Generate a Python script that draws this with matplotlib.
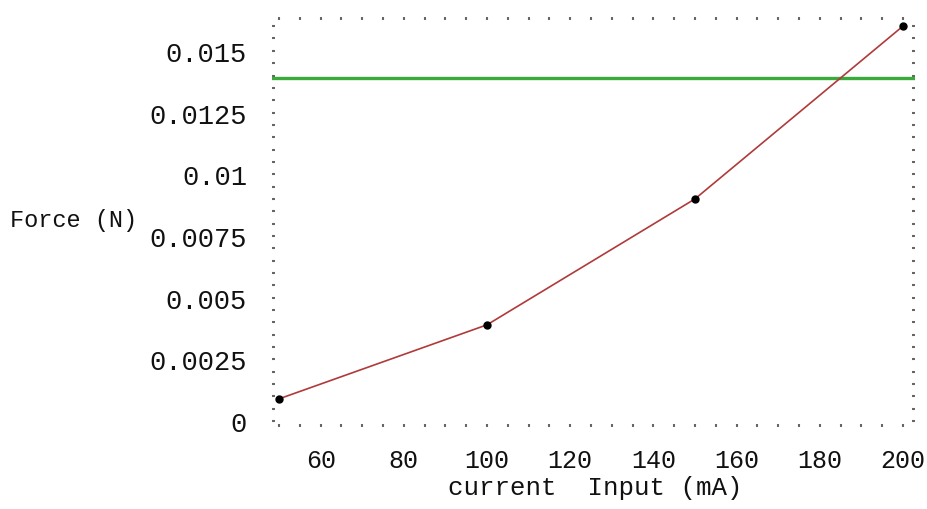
import numpy as np
import matplotlib
matplotlib.use('Agg')
from matplotlib import pyplot as plt
from matplotlib.ticker import MultipleLocator, FixedLocator

current = [50, 100, 150, 200]
force = [0.0009, 0.0039, 0.0090, 0.0160]
limit_force = 0.0139

x_ticks = [60, 80, 100, 120, 140, 160, 180, 200]
y_ticks = [0, 0.0025, 0.005, 0.0075, 0.01, 0.0125, 0.015]
y_tick_labels = ['0', '0.0025', '0.005', '0.0075', '0.01', '0.0125', '0.015']

plt.rcParams['font.family'] = ['Liberation Mono', 'DejaVu Sans']

fig = plt.figure(figsize=(9.28, 5.10), dpi=100)
ax = fig.add_axes([0.2931, 0.1608, 0.986 - 0.2931, 0.9647 - 0.1608])

ax.axhline(limit_force, color='#3aaa3a', lw=2.4, zorder=2)
ax.plot(current, force, color='#b03a3a', lw=1.2, zorder=3)
ax.plot(current, force, 'o', color='black', ms=5, zorder=4)

ax.set_xlim(48.3, 202.9)
ax.set_ylim(-0.00024, 0.01637)

ax.xaxis.set_major_locator(FixedLocator(x_ticks))
ax.xaxis.set_minor_locator(MultipleLocator(5))
ax.yaxis.set_major_locator(FixedLocator(y_ticks))
ax.yaxis.set_minor_locator(MultipleLocator(0.0005))
ax.set_yticklabels(y_tick_labels)

for s in ax.spines.values():
    s.set_visible(False)

ax.tick_params(which='both', direction='in', top=True, right=True,
               color='#666666', width=1.5)
ax.tick_params(which='major', length=2.5)
ax.tick_params(which='minor', length=2)
ax.tick_params(axis='x', which='major', labelsize=18, pad=15, labelcolor='#111111')
ax.tick_params(axis='y', which='major', labelsize=19.5, pad=18, labelcolor='#111111')

fig.text(10 / 928, 1 - 220 / 510, 'Force (N)', fontsize=17, color='#111111',
         ha='left', va='center')
fig.text(595 / 928, 1 - 488 / 510, 'current  Input (mA)', fontsize=18.5,
         color='#111111', ha='center', va='center')

fig.savefig('out.png', dpi=100)
